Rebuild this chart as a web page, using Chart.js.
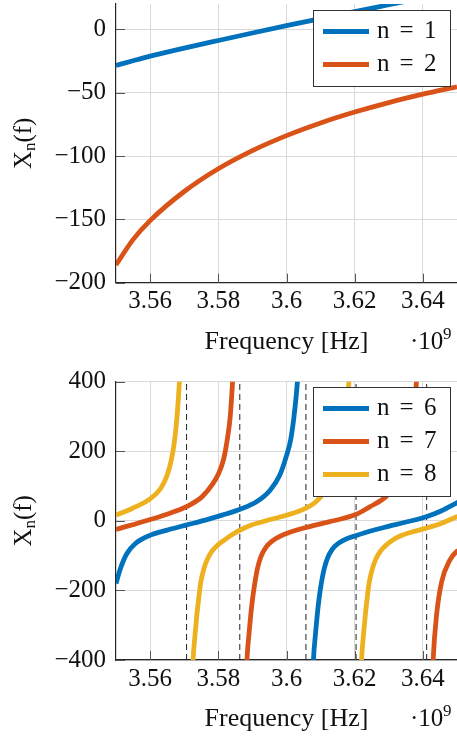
<!DOCTYPE html>
<html>
<head>
<meta charset="utf-8">
<title>Xn(f)</title>
<script src="https://cdn.jsdelivr.net/npm/chart.js@4"></script>
<style>
  html, body { margin: 0; padding: 0; background: #fff; }
  .panel { position: absolute; left: 0; width: 457px; height: 370px; }
</style>
</head>
<body>
<div class="panel" style="top:0"><canvas id="upper" width="457" height="370"></canvas></div>
<div class="panel" style="top:370px"><canvas id="lower" width="457" height="370"></canvas></div>
<script>
// tick values
const freqTicks = [3.56, 3.58, 3.60, 3.62, 3.64];
const upperTicks = [-200, -150, -100, -50, 0];
const lowerTicks = [-400, -200, 0, 200, 400];

// upper panel: n = 1, n = 2
const freqUpper = [3.55, 3.555, 3.56, 3.57, 3.58, 3.59, 3.60, 3.61, 3.62, 3.63, 3.64, 3.65];
const xN1 = [-28.5, -24.8, -21.2, -14.8, -8.8, -2.9, 2.9, 8.5, 14, 19.4, 24.8, 30.2];
const xN2 = [-186, -166, -151, -128, -110, -95.7, -83.9, -73.9, -65.3, -57.8, -51.2, -45.3];

// lower panel: n = 6 (two branches)
const freqN6a = [3.55, 3.5513, 3.5532, 3.5557, 3.5601, 3.5650, 3.5705, 3.5762, 3.5811, 3.5866, 3.5912, 3.5952, 3.5980, 3.5999, 3.6012, 3.6022, 3.6032, 3.6037];
const xN6a = [-180, -137, -94, -65, -41, -26.7, -12.4, 2, 16.4, 34, 54.7, 88, 131, 184, 232, 300, 400, 480];
const freqN6b = [3.6076, 3.6079, 3.6085, 3.6090, 3.6095, 3.6102, 3.6110, 3.6120, 3.6134, 3.6153, 3.6175, 3.6205, 3.6244, 3.6290, 3.6357, 3.6410, 3.6455, 3.6498, 3.6510];
const xN6b = [-480, -400, -325, -272, -228, -180, -140, -108, -82, -64, -52, -42, -30, -18, -2, 12, 29, 51, 57];

// n = 7 (three branches)
const freqN7a = [3.55, 3.5601, 3.5650, 3.5705, 3.5752, 3.5781, 3.5801, 3.5816, 3.5826, 3.5835, 3.5842, 3.5848];
const xN7a = [-24.8, 4, 19, 40, 69, 102.6, 136, 179, 232, 300, 400, 480];
const freqN7b = [3.5881, 3.5884, 3.5890, 3.5895, 3.5900, 3.5907, 3.5915, 3.5925, 3.5939, 3.5958, 3.5980, 3.6010, 3.6054, 3.6124, 3.6203, 3.6244, 3.6291, 3.6320, 3.6340, 3.6355, 3.6365, 3.6374, 3.6381, 3.6387];
const xN7b = [-480, -400, -325, -272, -228, -180, -136, -103, -77, -58, -45, -33, -20, -3, 18, 40, 69, 102, 136, 179, 232, 300, 400, 480];
const freqN7c = [3.6424, 3.6430, 3.6440, 3.6455, 3.6479, 3.6498, 3.6510];
const xN7c = [-560, -400, -271, -175, -113, -89, -82];

// n = 8 (three branches)
const freqN8a = [3.55, 3.5547, 3.5601, 3.5631, 3.5650, 3.5662, 3.5672, 3.5679, 3.5686, 3.5690];
const xN8a = [16.4, 35.6, 64, 93, 131, 174, 232, 300, 400, 480];
const freqN8b = [3.5723, 3.5726, 3.5732, 3.5737, 3.5742, 3.5748, 3.5757, 3.5768, 3.5781, 3.5800, 3.5818, 3.5840, 3.5863, 3.5897, 3.5932, 3.5999, 3.6032, 3.6060, 3.6083, 3.6100, 3.6125, 3.6143, 3.6158, 3.6168, 3.6176, 3.6183, 3.6189];
const xN8b = [-480, -400, -325, -272, -228, -180, -140, -110, -88, -68, -55, -40, -27, -12, -2, 16, 26, 38, 52, 69, 100, 136, 179, 232, 300, 400, 480];
const freqN8c = [3.6217, 3.6220, 3.6226, 3.6231, 3.6236, 3.6242, 3.6251, 3.6262, 3.6275, 3.6294, 3.6312, 3.6335, 3.6365, 3.6410, 3.6455, 3.6498, 3.6510];
const xN8c = [-480, -400, -325, -272, -228, -180, -140, -110, -88, -68, -55, -43, -33, -21, -7, 11, 15];

// dashed reference lines
const dashedFreqs = [3.5707, 3.5863, 3.6057, 3.6204, 3.6411];

const FONT = "'Liberation Serif', 'Times New Roman', serif";
const BLUE = '#0072BD', ORANGE = '#D95319', YELLOW = '#EDB120';

function pts(fs, vs) {
  return fs.map((f, i) => ({ x: f, y: vs[i] }));
}

function curve(fs, vs, color, order) {
  return {
    data: pts(fs, vs), borderColor: color, borderWidth: 4.8,
    pointRadius: 0, cubicInterpolationMode: 'monotone',
    borderCapStyle: 'butt', clip: 0, order: order
  };
}

function minusLabel(v) {
  return v < 0 ? '\u2212' + Math.abs(v) : String(v);
}

// titles, inward tick marks and the boxed legend
const decor = {
  id: 'decor',
  afterDatasetsDraw(chart, args, o) {
    const ctx = chart.ctx, a = chart.chartArea;
    const xs = chart.scales.x, ys = chart.scales.y;
    ctx.save();
    ctx.strokeStyle = '#555';
    ctx.lineWidth = 1;
    ctx.beginPath();
    xs.ticks.forEach(t => {
      const px = Math.round(xs.getPixelForValue(t.value)) + 0.5;
      ctx.moveTo(px, a.bottom);
      ctx.lineTo(px, a.bottom - 9);
    });
    ys.ticks.forEach(t => {
      const py = Math.round(ys.getPixelForValue(t.value)) + 0.5;
      ctx.moveTo(a.left, py);
      ctx.lineTo(a.left + 9, py);
    });
    ctx.stroke();

    // legend
    const rows = o.legend;
    const w = 137, h = 43 + 33 * (rows.length - 1);
    const bx = Math.round(a.right - 7 - w), by = Math.round(a.top + o.legendTop);
    ctx.fillStyle = '#fff';
    ctx.fillRect(bx, by, w, h);
    ctx.strokeStyle = '#333';
    ctx.lineWidth = 1;
    ctx.strokeRect(bx + 0.5, by + 0.5, w, h);
    ctx.font = '25px ' + FONT;
    ctx.textBaseline = 'alphabetic';
    rows.forEach((r, i) => {
      const ry = by + 21.5 + 33 * i;
      ctx.strokeStyle = r.color;
      ctx.lineWidth = 4.8;
      ctx.lineCap = 'butt';
      ctx.beginPath();
      ctx.moveTo(bx + 10, ry);
      ctx.lineTo(bx + 56, ry);
      ctx.stroke();
      ctx.fillStyle = '#111';
      ctx.textAlign = 'left';
      ctx.fillText('n', bx + 64, ry + 6.5);
      ctx.textAlign = 'center';
      ctx.fillText('=', bx + 93.5, ry + 6.5);
      ctx.textAlign = 'left';
      ctx.fillText(r.label, bx + 111, ry + 6.5);
    });
    ctx.restore();
  },
  afterDraw(chart) {
    const ctx = chart.ctx, a = chart.chartArea;
    ctx.save();
    ctx.fillStyle = '#111';
    ctx.textBaseline = 'alphabetic';
    ctx.font = '26px ' + FONT;
    ctx.textAlign = 'center';
    ctx.fillText('Frequency [Hz]', (a.left + a.right) / 2, a.bottom + 66);
    ctx.textAlign = 'left';
    ctx.font = '25px ' + FONT;
    ctx.fillText('\u00B710', 410, a.bottom + 66);
    ctx.font = '17px ' + FONT;
    ctx.fillText('9', 443, a.bottom + 56);

    // y title X_n(f)
    ctx.translate(31, (a.top + a.bottom) / 2);
    ctx.rotate(-Math.PI / 2);
    ctx.font = '25px ' + FONT;
    const wX = ctx.measureText('X').width;
    const wf = ctx.measureText('(f)').width;
    ctx.font = '17px ' + FONT;
    const wn = ctx.measureText('n').width;
    const x0 = -(wX + wn + wf) / 2;
    ctx.font = '25px ' + FONT;
    ctx.fillText('X', x0, 0);
    ctx.fillText('(f)', x0 + wX + wn, 0);
    ctx.font = '17px ' + FONT;
    ctx.fillText('n', x0 + wX, 4);
    ctx.restore();
  }
};

function axes(yTicks, yMin, yMax, xHeight) {
  const tickFont = { family: FONT, size: 25, lineHeight: 1.2 };
  return {
    x: {
      type: 'linear', min: 3.55, max: 3.65,
      afterBuildTicks: s => { s.ticks = freqTicks.map(v => ({ value: v })); },
      afterFit: s => { s.height = xHeight; s.paddingLeft = 0; s.paddingRight = 0; },
      grid: { color: '#d9d9d9', lineWidth: 1, drawTicks: false },
      border: { color: '#262626', width: 1.2 },
      ticks: {
        font: tickFont, color: '#111', padding: 4, maxRotation: 0, autoSkip: false,
        callback: v => String(+v.toFixed(2))
      }
    },
    y: {
      type: 'linear', min: yMin, max: yMax,
      afterBuildTicks: s => { s.ticks = yTicks.map(v => ({ value: v })); },
      afterFit: s => { s.width = 116; s.paddingTop = 0; s.paddingBottom = 0; },
      grid: { color: '#d9d9d9', lineWidth: 1, drawTicks: false },
      border: { color: '#262626', width: 1.2 },
      ticks: { font: tickFont, color: '#111', padding: 10, autoSkip: false, callback: minusLabel }
    }
  };
}

function baseOptions(yTicks, yMin, yMax, xHeight, padTop, legend, legendTop) {
  return {
    responsive: false, animation: false, events: [], devicePixelRatio: 1,
    layout: { padding: { top: padTop, right: 0, bottom: 0, left: 0 } },
    scales: axes(yTicks, yMin, yMax, xHeight),
    plugins: {
      legend: { display: false }, tooltip: { enabled: false },
      decor: { legend: legend, legendTop: legendTop }
    }
  };
}

// upper chart
new Chart(document.getElementById('upper'), {
  type: 'line',
  data: {
    datasets: [
      curve(freqUpper, xN1, BLUE, 2),
      curve(freqUpper, xN2, ORANGE, 1)
    ]
  },
  options: baseOptions(upperTicks, -200, 20, 87.3, 4,
    [{ label: '1', color: BLUE }, { label: '2', color: ORANGE }], 6),
  plugins: [decor]
});

// lower chart
const lowerSets = dashedFreqs.map(f => ({
  data: [{ x: f, y: -400 }, { x: f, y: 400 }],
  borderColor: '#222', borderWidth: 1, borderDash: [6, 4],
  pointRadius: 0, clip: 0, order: 10
}));
lowerSets.push(
  curve(freqN6a, xN6a, BLUE, 3), curve(freqN6b, xN6b, BLUE, 3),
  curve(freqN7a, xN7a, ORANGE, 2), curve(freqN7b, xN7b, ORANGE, 2), curve(freqN7c, xN7c, ORANGE, 2),
  curve(freqN8a, xN8a, YELLOW, 1), curve(freqN8b, xN8b, YELLOW, 1), curve(freqN8c, xN8c, YELLOW, 1)
);

new Chart(document.getElementById('lower'), {
  type: 'line',
  data: { datasets: lowerSets },
  options: baseOptions(lowerTicks, -400, 400, 80, 11.7,
    [{ label: '6', color: BLUE }, { label: '7', color: ORANGE }, { label: '8', color: YELLOW }], 5.3),
  plugins: [decor]
});
</script>
</body>
</html>
